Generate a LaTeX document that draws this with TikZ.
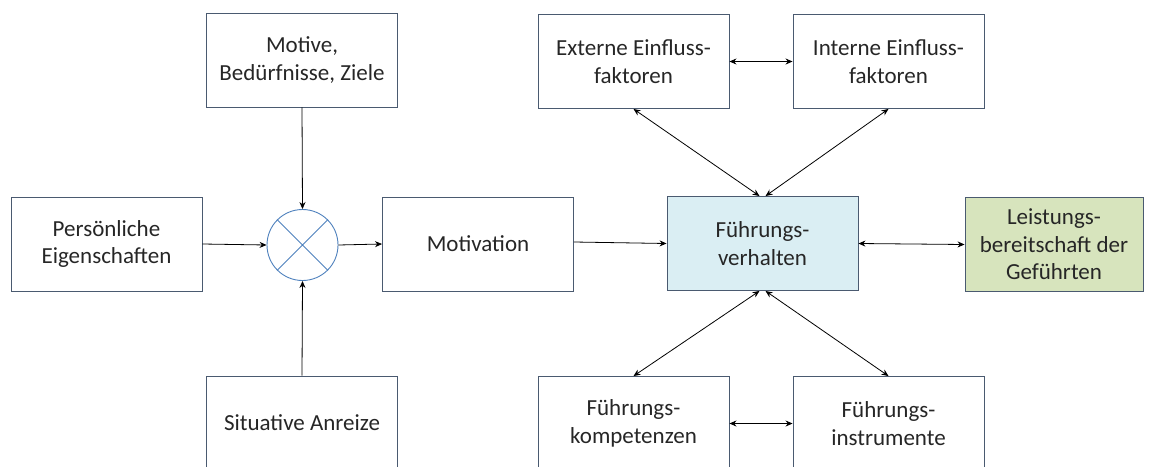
\documentclass[tikz,border=0pt]{standalone}
\usepackage{fontspec}
\setmainfont{Carlito}
\usetikzlibrary{arrows.meta,calc}
\definecolor{boxline}{HTML}{4A5A70}
\definecolor{circblue}{HTML}{4F81BD}
\definecolor{fvfill}{HTML}{DAEEF3}
\definecolor{lbfill}{HTML}{D7E4BD}
\definecolor{txt}{HTML}{262626}
\tikzset{
  box/.style={draw=boxline, line width=0.9pt, minimum width=191pt, minimum height=94pt,
    align=center, inner sep=0pt, text=txt,
    font=\fontsize{23}{27.5}\selectfont},
  conn/.style={line width=0.8pt, -{Stealth[length=7pt,width=6pt]}},
  bconn/.style={line width=0.8pt, {Stealth[length=7pt,width=6pt]}-{Stealth[length=7pt,width=6pt]}},
}
\begin{document}
\begin{tikzpicture}[x=1pt,y=-1pt]
\useasboundingbox (0,0) rectangle (1151,466);
\begin{scope}
\clip (0,0) rectangle (1151,466);
\node[box] (pe) at (106.5,244) {Persönliche\\Eigenschaften};
\node[box] (mo) at (302,60) {Motive,\\Bedürfnisse, Ziele};
\node[box] (si) at (302,423) {Situative Anreize};
\node[draw=circblue, line width=0.9pt, circle, minimum size=71pt, inner sep=0pt] (ci) at (302.5,245) {};
\draw[circblue, line width=0.9pt] (ci.45) -- (ci.225) (ci.135) -- (ci.315);
\node[box] (mv) at (478,244) {Motivation};
\node[box, fill=fvfill] (fv) at (762.5,243.5) {Führungs-\\verhalten};
\node[box, fill=lbfill, minimum width=178pt] (lb) at (1054,244.5) {Leistungs-\\bereitschaft der\\Geführten};
\node[box] (ex) at (633.5,61.5) {Externe Einfluss-\\faktoren};
\node[box] (in) at (888.5,61.5) {Interne Einfluss-\\faktoren};
\node[box] (fk) at (633.5,423.5) {Führungs-\\kompetenzen};
\node[box] (fi) at (888.5,423.5) {Führungs-\\instrumente};
\end{scope}
\draw[conn] (pe.east) -- (ci.west);
\draw[conn] (mo.south) -- (ci.north);
\draw[conn] (si.north) -- (ci.south);
\draw[conn] (ci.east) -- (mv.west);
\draw[conn] ($(mv.east)+(0,-2)$) -- (fv.west);
\draw[bconn] (fv.east) -- (lb.west);
\draw[bconn] (ex.east) -- (in.west);
\draw[bconn] (fk.east) -- (fi.west);
\draw[bconn] (ex.south) -- ($(fv.north)+(-3,0)$);
\draw[bconn] (in.south) -- ($(fv.north)+(3,0)$);
\draw[bconn] (fk.north) -- ($(fv.south)+(-3,0)$);
\draw[bconn] (fi.north) -- ($(fv.south)+(3,0)$);
\end{tikzpicture}
\end{document}
